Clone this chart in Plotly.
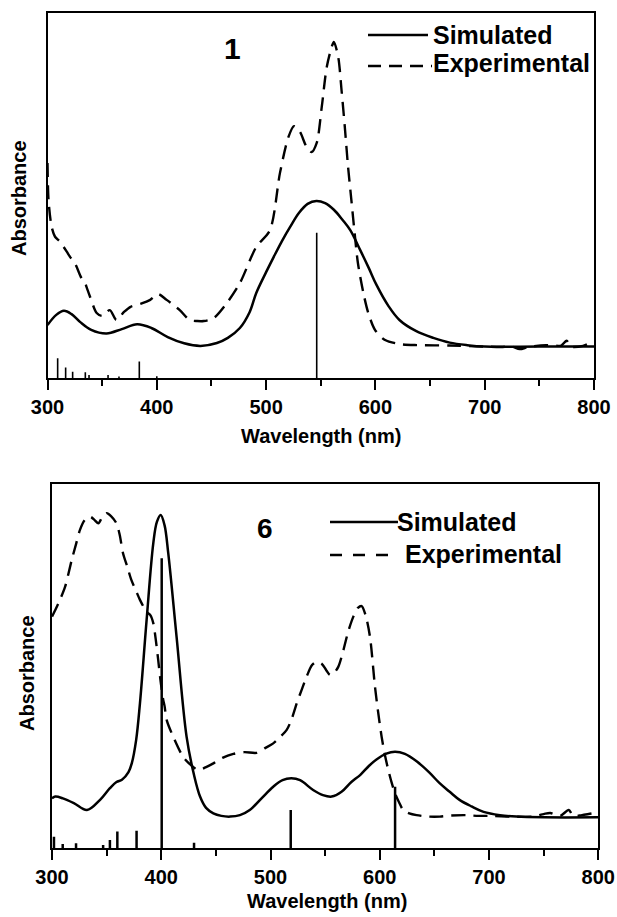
import plotly.graph_objects as go

W, H = 617, 917
FONT = "Liberation Sans, Arial, sans-serif"

# ---------------- Panel 1 data ----------------
sim1_x = [300, 308, 315, 322, 330, 340, 354, 368, 382, 395, 410, 425, 440, 455, 465, 476, 485, 491, 500, 507,
          515, 522, 530, 538, 546, 554, 562, 570, 577, 586, 594, 601, 612, 622, 637, 653, 668, 684, 700, 750, 800]
sim1_y = [0.145, 0.173, 0.184, 0.175, 0.153, 0.132, 0.122, 0.134, 0.147, 0.137, 0.112, 0.095, 0.088, 0.096, 0.110,
          0.137, 0.181, 0.233, 0.290, 0.332, 0.378, 0.414, 0.452, 0.477, 0.485, 0.479, 0.461, 0.433, 0.405, 0.351,
          0.301, 0.255, 0.197, 0.159, 0.129, 0.110, 0.097, 0.090, 0.086, 0.086, 0.086]

exp1_x = [300, 301, 303.8, 306.9, 311.5, 317.6, 320.6, 325, 331, 334, 336, 339, 345, 350, 357, 363, 370, 376, 385,
          394, 401, 409, 421, 430, 437, 443, 452, 464, 476, 491, 503.5, 512.7, 520.4, 525.5, 531, 537, 541.6, 546.3,
          550.9, 555.5, 560, 562, 566, 569, 572, 575, 578, 581, 584, 589, 593.5, 599.6, 608.8, 622.5, 638, 668, 699,
          715, 725, 732, 740, 756, 770, 775, 779, 790, 796, 800]
exp1_y = [0.589, 0.485, 0.414, 0.387, 0.373, 0.346, 0.332, 0.315, 0.274, 0.263, 0.247, 0.222, 0.178, 0.170, 0.186,
          0.159, 0.181, 0.195, 0.203, 0.214, 0.230, 0.214, 0.186, 0.159, 0.156, 0.156, 0.164, 0.205, 0.260, 0.359,
          0.405, 0.562, 0.660, 0.690, 0.674, 0.633, 0.619, 0.644, 0.742, 0.852, 0.907, 0.921, 0.879, 0.789, 0.688,
          0.578, 0.488, 0.397, 0.315, 0.233, 0.178, 0.132, 0.104, 0.093, 0.090, 0.089, 0.086, 0.085, 0.086, 0.079,
          0.085, 0.090, 0.089, 0.102, 0.086, 0.088, 0.095, 0.093]

stick1_x = [309.3, 316.6, 323, 334.6, 338, 355.4, 365.4, 384, 400, 546.3]
stick1_y = [0.054, 0.029, 0.017, 0.016, 0.008, 0.008, 0.004, 0.045, 0.005, 0.398]

# ---------------- Panel 6 data ----------------
sim6_x = [300, 303, 310, 320, 332, 344, 353, 359, 364, 370, 373, 377, 380.5, 386.6, 392.7, 396, 399.5, 403, 406.4,
          414, 423.2, 430, 435.5, 441, 447.7, 455, 463, 472, 481, 492, 502.5, 511, 519, 527, 539, 548, 556, 565, 574,
          582, 590, 597, 606, 614, 623, 634, 645, 655, 664, 673, 684, 695, 710, 725, 750, 800]
sim6_y = [0.137, 0.142, 0.137, 0.124, 0.105, 0.133, 0.165, 0.182, 0.188, 0.209, 0.233, 0.297, 0.398, 0.627, 0.837,
          0.896, 0.915, 0.887, 0.810, 0.581, 0.306, 0.201, 0.142, 0.111, 0.096, 0.089, 0.087, 0.091, 0.105, 0.138,
          0.169, 0.187, 0.192, 0.187, 0.160, 0.146, 0.142, 0.155, 0.182, 0.201, 0.226, 0.244, 0.260, 0.265, 0.259,
          0.238, 0.209, 0.178, 0.155, 0.133, 0.115, 0.100, 0.091, 0.087, 0.085, 0.085]

exp6_x = [300, 303, 308, 312, 318, 322, 325.6, 330, 335, 339, 342.4, 346, 350, 354, 359, 362, 365, 369, 372.7, 377,
          380.5, 386.6, 390, 392.7, 395, 397.2, 399.5, 401.8, 403, 405, 411, 420, 427, 434, 441, 447.7, 456, 466, 476,
          487.3, 495, 502.5, 509, 514.8, 519, 524, 528.5, 533, 538, 542.3, 547, 551, 554.5, 558, 562, 566.7, 571,
          575.8, 580, 583.4, 587, 591, 595.6, 598.5, 601.7, 604.7, 607.8, 611, 613.9, 617.5, 621.5, 627, 633.7, 645,
          655, 665, 679.5, 690, 703, 720, 740, 750, 756, 765, 773, 777, 785, 795, 800]
exp6_y = [0.636, 0.654, 0.687, 0.718, 0.791, 0.835, 0.874, 0.901, 0.910, 0.901, 0.892, 0.909, 0.920, 0.912, 0.892,
          0.860, 0.810, 0.772, 0.736, 0.706, 0.682, 0.649, 0.640, 0.618, 0.572, 0.517, 0.456, 0.407, 0.391, 0.352,
          0.306, 0.251, 0.229, 0.215, 0.223, 0.233, 0.248, 0.259, 0.264, 0.262, 0.275, 0.288, 0.306, 0.325, 0.352,
          0.398, 0.435, 0.471, 0.503, 0.512, 0.506, 0.489, 0.476, 0.481, 0.498, 0.544, 0.594, 0.636, 0.660, 0.665,
          0.640, 0.581, 0.444, 0.374, 0.306, 0.256, 0.215, 0.179, 0.151, 0.127, 0.105, 0.096, 0.091, 0.087, 0.087,
          0.090, 0.091, 0.089, 0.089, 0.087, 0.087, 0.094, 0.097, 0.089, 0.105, 0.089, 0.091, 0.096, 0.097]

stick6_x = [301.8, 309.8, 322, 346.8, 353, 359.8, 377.4, 400.4, 430, 518.5, 614]
stick6_y = [0.032, 0.012, 0.014, 0.009, 0.023, 0.046, 0.048, 0.796, 0.015, 0.105, 0.169]

panel_labels = ["1", "6"]
legend_labels = ["Simulated", "Experimental"]
x_title = "Wavelength (nm)"
y_title = "Absorbance"
x_ticks = [300, 400, 500, 600, 700, 800]


def px_x(p):
    return p / W


def px_y(p):
    return 1 - p / H


def sticks(xs, ys):
    sx, sy = [], []
    for x, y in zip(xs, ys):
        sx += [x, x, None]
        sy += [0, y, None]
    return sx, sy


DASH = "14px,8px"
fig = go.Figure()

# panel 1 (top)
s1x, s1y = sticks(stick1_x, stick1_y)
fig.add_trace(go.Scatter(x=s1x, y=s1y, mode="lines", line=dict(color="black", width=1.6),
                         xaxis="x", yaxis="y", showlegend=False, hoverinfo="skip"))
fig.add_trace(go.Scatter(x=exp1_x, y=exp1_y, mode="lines", line=dict(color="black", width=2.4, dash=DASH,
                         shape="spline", smoothing=0.8), xaxis="x", yaxis="y", name=legend_labels[1], showlegend=False))
fig.add_trace(go.Scatter(x=sim1_x, y=sim1_y, mode="lines", line=dict(color="black", width=2.5,
                         shape="spline", smoothing=1), xaxis="x", yaxis="y", name=legend_labels[0], showlegend=False))

# panel 6 (bottom)
s6x, s6y = sticks(stick6_x, stick6_y)
fig.add_trace(go.Scatter(x=s6x, y=s6y, mode="lines", line=dict(color="black", width=2.5),
                         xaxis="x2", yaxis="y2", showlegend=False, hoverinfo="skip"))
fig.add_trace(go.Scatter(x=exp6_x, y=exp6_y, mode="lines", line=dict(color="black", width=2.4, dash=DASH,
                         shape="spline", smoothing=0.8), xaxis="x2", yaxis="y2", name=legend_labels[1], showlegend=False))
fig.add_trace(go.Scatter(x=sim6_x, y=sim6_y, mode="lines", line=dict(color="black", width=2.5,
                         shape="spline", smoothing=1), xaxis="x2", yaxis="y2", name=legend_labels[0], showlegend=False))

xax = dict(range=[300, 800], tickvals=x_ticks, ticks="outside", ticklen=10, tickwidth=2, tickcolor="black",
           showline=True, linewidth=2, linecolor="black", mirror=True, showgrid=False, zeroline=False,
           automargin=False,
           tickfont=dict(family=FONT, size=20, color="black", weight="bold"),
           minor=dict(dtick=50, tick0=300, ticks="outside", ticklen=6, tickwidth=2, tickcolor="black", showgrid=False))
yax = dict(range=[0, 1], showticklabels=False, ticks="", showline=True, linewidth=2, linecolor="black",
           mirror=True, showgrid=False, zeroline=False, automargin=False)

fig.update_layout(
    width=W, height=H, margin=dict(l=0, r=0, t=0, b=0, autoexpand=False),
    paper_bgcolor="white", plot_bgcolor="white",
    xaxis=dict(xax, domain=[px_x(47.5), px_x(594)], anchor="y"),
    yaxis=dict(yax, domain=[px_y(378), px_y(13)], anchor="x"),
    xaxis2=dict(xax, domain=[px_x(52), px_x(598.3)], anchor="y2"),
    yaxis2=dict(yax, domain=[px_y(848.3), px_y(484)], anchor="x2"),
    showlegend=False,
)

bold = lambda s: dict(family=FONT, size=s, color="black", weight="bold")
ann = []
# axis titles
ann.append(dict(text=x_title, x=px_x(321), y=px_y(436), xref="paper", yref="paper", showarrow=False,
                font=bold(20), xanchor="center", yanchor="middle"))
ann.append(dict(text=x_title, x=px_x(327), y=px_y(901), xref="paper", yref="paper", showarrow=False,
                font=bold(20), xanchor="center", yanchor="middle"))
ann.append(dict(text=y_title, x=px_x(18.5), y=px_y(198.5), xref="paper", yref="paper", showarrow=False,
                font=bold(20), textangle=-90, xanchor="center", yanchor="middle"))
ann.append(dict(text=y_title, x=px_x(27), y=px_y(673), xref="paper", yref="paper", showarrow=False,
                font=bold(20), textangle=-90, xanchor="center", yanchor="middle"))
# panel labels
ann.append(dict(text=panel_labels[0], x=px_x(232), y=px_y(49), xref="paper", yref="paper", showarrow=False,
                font=bold(30), xanchor="center", yanchor="middle"))
ann.append(dict(text=panel_labels[1], x=px_x(265), y=px_y(528), xref="paper", yref="paper", showarrow=False,
                font=bold(28), xanchor="center", yanchor="middle"))
# legend texts
ann.append(dict(text=legend_labels[0], x=px_x(431), y=px_y(35), xref="paper", yref="paper", showarrow=False,
                font=bold(25), xanchor="left", yanchor="middle"))
ann.append(dict(text=legend_labels[1], x=px_x(431), y=px_y(63), xref="paper", yref="paper", showarrow=False,
                font=bold(25), xanchor="left", yanchor="middle"))
ann.append(dict(text=legend_labels[0], x=px_x(395), y=px_y(522), xref="paper", yref="paper", showarrow=False,
                font=bold(25), xanchor="left", yanchor="middle"))
ann.append(dict(text=legend_labels[1], x=px_x(403), y=px_y(554), xref="paper", yref="paper", showarrow=False,
                font=bold(25), xanchor="left", yanchor="middle"))
fig.update_layout(annotations=ann)

# legend samples
shapes = [
    dict(type="line", xref="paper", yref="paper", x0=px_x(368), x1=px_x(428), y0=px_y(35), y1=px_y(35),
         line=dict(color="black", width=2.5)),
    dict(type="line", xref="paper", yref="paper", x0=px_x(368), x1=px_x(432), y0=px_y(66), y1=px_y(66),
         line=dict(color="black", width=2.5, dash="13px,8px")),
    dict(type="line", xref="paper", yref="paper", x0=px_x(330), x1=px_x(398), y0=px_y(522), y1=px_y(522),
         line=dict(color="black", width=2.5)),
    dict(type="line", xref="paper", yref="paper", x0=px_x(330), x1=px_x(398), y0=px_y(555), y1=px_y(555),
         line=dict(color="black", width=2.5, dash="12px,11px")),
]
fig.update_layout(shapes=shapes)

fig.write_html("out.html", config={"displayModeBar": False},
               post_script="document.body.style.margin='0';document.body.style.overflow='hidden';")
